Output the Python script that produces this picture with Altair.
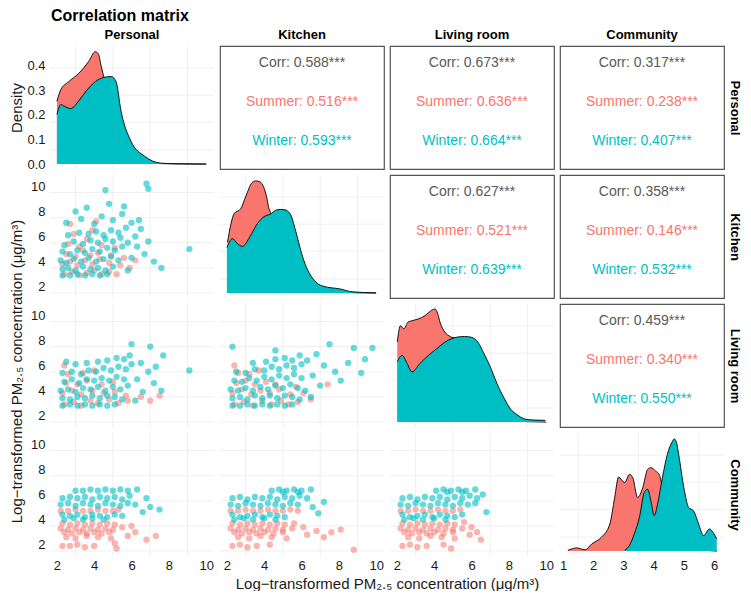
import altair as alt
import pandas as pd

FONT = "Liberation Sans"
VARS = ["Personal", "Kitchen", "Living room", "Community"]
SEASONS = ["Summer", "Winter"]
SEASON_COLORS = ["#F8766D", "#00BFC4"]
CORR_COLOR = "#595959"
GRID_COLOR = "#EBEBEB"

# upper-triangle correlation texts (row, col)
CORR_CELLS = [(0, 1), (0, 2), (0, 3), (1, 2), (1, 3), (2, 3)]
CORR_ALL = ["0.588", "0.673", "0.317", "0.627", "0.358", "0.459"]
CORR_SUMMER = ["0.516", "0.636", "0.238", "0.521", "0.146", "0.340"]
CORR_WINTER = ["0.593", "0.664", "0.407", "0.639", "0.532", "0.550"]

AXIS_TICKS = [2, 4, 6, 8, 10]
AXIS_TICKS_COMM = [1, 2, 3, 4, 5, 6]
DENSITY_TICKS = [0.0, 0.1, 0.2, 0.3, 0.4]
VGRID = [3, 5, 7, 9]
VGRID_COMM = [1.5, 3.5, 5.5]
HGRID_SCAT = [1.5, 3.5, 5.5, 7.5, 9.5]
HGRID_DENS = [0.057, 0.17, 0.28, 0.39]

X_DOM = [1.63, 10.42]
X_DOM_COMM = [0.9, 6.33]
Y_DOM = [1.1, 10.9]
D_DOM = [-0.02, 0.48]

XTITLE = "Log\u2212transformed PM\u2082.\u2085 concentration (\u03bcg/m\u00b3)"

# ---- diagonal densities ----
P_SUM_X = [2.0, 2.21, 2.63, 3.16, 3.69, 4.06, 4.22, 4.38, 4.54, 4.75, 5.0, 5.5, 6.3, 7.5, 10.0]
P_SUM_Y = [0.255, 0.303, 0.335, 0.368, 0.416, 0.457, 0.448, 0.396, 0.347, 0.295, 0.17, 0.05, 0.01, 0.002, 0.0]
P_WIN_X = [2.0, 2.21, 2.4, 2.74, 3.2, 3.6, 4.06, 4.5, 4.91, 5.17, 5.44, 5.97, 6.7, 7.56, 8.5, 10.0]
P_WIN_Y = [0.202, 0.242, 0.235, 0.226, 0.26, 0.30, 0.335, 0.352, 0.356, 0.335, 0.214, 0.093, 0.032, 0.004, 0.001, 0.0]

K_SUM_X = [2.03, 2.39, 2.74, 3.02, 3.34, 3.54, 3.77, 3.98, 4.14, 4.24, 4.33, 4.6, 5.0, 5.5, 6.5, 8.0, 10.0]
K_SUM_Y = [0.207, 0.323, 0.343, 0.395, 0.448, 0.456, 0.452, 0.429, 0.387, 0.348, 0.328, 0.2, 0.1, 0.04, 0.01, 0.003, 0.0]
K_WIN_X = [2.0, 2.3, 2.55, 2.83, 3.24, 3.62, 3.98, 4.33, 4.62, 4.86, 5.09, 5.4, 5.68, 6.01, 6.26, 6.54, 6.84, 7.16, 8.05, 8.75, 9.99]
K_WIN_Y = [0.185, 0.221, 0.202, 0.19, 0.23, 0.281, 0.31, 0.321, 0.337, 0.34, 0.339, 0.321, 0.254, 0.16, 0.105, 0.066, 0.04, 0.028, 0.017, 0.005, 0.001]

L_SUM_X = [2.02, 2.19, 2.37, 2.6, 2.81, 3.13, 3.51, 3.81, 4.04, 4.19, 4.31, 4.57, 4.87, 5.19, 5.5, 6.0, 6.5, 7.0, 8.0, 10.0]
L_SUM_Y = [0.325, 0.392, 0.379, 0.407, 0.412, 0.419, 0.433, 0.452, 0.46, 0.44, 0.406, 0.366, 0.347, 0.339, 0.25, 0.12, 0.05, 0.02, 0.005, 0.0]
L_WIN_X = [2.02, 2.28, 2.55, 2.81, 3.23, 3.69, 4.13, 4.57, 4.93, 5.28, 5.63, 5.98, 6.34, 6.67, 7.04, 7.36, 7.75, 8.1, 8.46, 8.79, 9.16, 9.95]
L_WIN_Y = [0.245, 0.271, 0.238, 0.204, 0.238, 0.271, 0.298, 0.325, 0.339, 0.346, 0.348, 0.345, 0.325, 0.278, 0.218, 0.157, 0.097, 0.052, 0.029, 0.014, 0.009, 0.007]

C_SUM_X = [1.16, 1.46, 1.73, 1.95, 2.27, 2.55, 2.71, 2.84, 3.04, 3.2, 3.31, 3.47, 3.64, 3.8, 3.91, 4.07, 4.18, 4.29, 4.4, 4.6, 4.9, 5.3, 6.1]
C_SUM_Y = [0.003, 0.013, 0.005, 0.029, 0.056, 0.11, 0.218, 0.301, 0.278, 0.312, 0.298, 0.218, 0.258, 0.332, 0.339, 0.325, 0.312, 0.258, 0.17, 0.09, 0.035, 0.01, 0.0]
C_WIN_X = [3.04, 3.2, 3.36, 3.53, 3.69, 3.8, 3.91, 4.02, 4.13, 4.29, 4.45, 4.62, 4.68, 4.75, 4.83, 5.0, 5.16, 5.32, 5.49, 5.65, 5.85, 5.96, 6.09]
C_WIN_Y = [0.003, 0.023, 0.07, 0.137, 0.238, 0.251, 0.204, 0.144, 0.191, 0.298, 0.392, 0.445, 0.456, 0.445, 0.392, 0.258, 0.177, 0.164, 0.11, 0.063, 0.09, 0.077, 0.05]

# ---- scatter clouds (representative points) ----
PK_SUM = ("2.4,3.0 2.8,3.2 3.2,2.9 3.6,3.1 4.0,3.3 4.4,3.0 4.8,3.2 5.2,3.0 2.3,3.8 2.7,4.0 3.1,3.7 3.5,4.1 "
          "3.9,3.8 4.3,4.2 4.8,3.9 5.4,3.7 5.9,3.5 2.5,4.6 3.0,4.4 3.4,4.9 3.8,4.5 4.2,4.7 4.9,4.5 5.6,4.3 "
          "2.6,5.4 3.2,5.2 3.6,5.8 4.4,5.3 5.1,5.1 2.9,6.2 3.9,6.5 2.7,7.0 4.1,7.2 6.2,4.1")
PK_WIN = ("2.3,2.9 2.7,2.9 3.1,3.0 3.5,2.9 3.9,3.0 4.3,2.9 4.7,3.0 2.3,3.4 2.6,3.5 3.0,3.3 3.4,3.6 3.8,3.4 "
          "4.2,3.5 4.6,3.3 5.0,3.6 2.2,4.1 2.5,3.9 2.9,4.2 3.3,4.0 3.7,4.3 4.1,4.0 4.5,4.2 4.9,4.4 5.3,4.1 "
          "2.3,4.8 2.7,4.6 3.1,4.9 3.5,4.7 3.9,5.0 4.3,4.8 4.7,5.1 5.1,4.9 5.5,5.2 2.4,5.3 2.9,5.6 3.4,5.4 "
          "3.8,5.7 4.2,5.5 4.6,5.8 5.0,5.6 5.4,5.9 5.8,5.5 2.6,6.1 3.2,6.3 3.7,6.2 4.1,6.4 4.5,6.1 4.9,6.5 "
          "5.3,6.3 5.7,6.7 6.2,6.0 2.5,7.1 3.3,7.4 4.0,7.0 4.4,7.6 5.0,7.3 5.5,7.8 6.0,7.1 6.5,6.6 3.6,8.3 "
          "4.8,8.6 5.6,8.4 4.6,9.7 6.8,10.2 6.9,9.8 3.0,8.0 6.3,5.2 6.7,4.6 7.2,4.0 7.6,3.5 6.9,5.6 6.0,4.3 "
          "9.1,5.0 5.8,3.3 6.4,7.3")
PL_SUM = ("2.4,2.9 2.9,3.1 3.3,2.8 3.8,3.2 4.2,3.0 4.8,3.3 5.3,3.0 5.8,3.2 2.3,3.8 2.8,4.0 3.3,3.7 3.9,4.0 "
          "4.5,3.8 5.1,3.9 5.7,3.6 6.5,3.5 7.0,3.2 7.5,3.6 2.5,4.6 3.1,4.5 3.6,4.8 4.4,4.5 5.0,4.7 2.6,5.3 "
          "3.4,5.4 4.0,5.6 2.4,6.0")
PL_WIN = ("2.3,2.8 2.7,2.9 3.1,2.8 3.5,2.9 3.9,2.8 4.3,2.9 4.7,2.8 5.1,2.9 2.3,3.4 2.7,3.3 3.1,3.5 3.5,3.4 "
          "3.9,3.6 4.3,3.4 4.7,3.6 5.1,3.5 5.5,3.3 2.2,4.0 2.6,4.1 3.0,3.9 3.4,4.2 3.8,4.1 4.2,4.3 4.6,4.0 "
          "5.0,4.3 5.4,4.1 5.8,4.4 2.4,4.7 2.8,4.9 3.2,4.6 3.6,4.9 4.0,4.8 4.4,5.0 4.8,4.8 5.2,5.1 5.6,4.9 "
          "2.3,5.4 2.8,5.5 3.3,5.3 3.7,5.6 4.1,5.5 4.5,5.8 4.9,5.6 5.3,5.9 5.7,5.7 6.0,6.1 3.0,6.1 3.6,6.2 "
          "4.2,6.3 4.7,6.4 5.2,6.6 5.6,6.5 5.9,6.8 6.0,7.7 7.0,7.5 7.7,6.8 6.5,6.2 6.9,5.5 6.3,4.9 7.2,4.6 "
          "7.6,4.0 6.6,3.9 9.1,5.6 2.5,6.3 6.2,3.2 7.3,5.9")
KL_SUM = ("2.4,2.9 2.9,3.1 3.4,2.8 3.9,3.2 4.4,2.9 4.9,3.2 5.3,2.9 5.8,3.1 2.3,3.8 2.8,4.1 3.3,3.7 3.8,4.0 "
          "4.3,3.8 4.8,4.1 5.4,3.7 6.1,3.8 5.7,4.3 7.4,4.5 2.5,4.6 3.0,4.8 3.5,4.5 4.1,4.7 4.6,4.5 2.6,5.4 "
          "3.2,5.3 3.7,5.6 2.4,6.0 6.5,3.3")
KL_WIN = ("2.3,2.8 2.7,2.8 3.1,2.9 3.5,2.8 3.9,2.9 4.3,2.8 4.7,2.9 5.1,2.8 5.5,2.9 2.3,3.4 2.7,3.5 3.1,3.3 "
          "3.5,3.6 3.9,3.4 4.3,3.6 4.7,3.4 5.1,3.6 5.5,3.5 5.9,3.3 2.2,4.1 2.6,4.0 3.0,4.2 3.4,4.0 3.8,4.3 "
          "4.2,4.1 4.6,4.4 5.0,4.2 5.4,4.5 5.8,4.2 6.2,4.0 2.4,4.8 2.8,4.7 3.2,5.0 3.6,4.8 4.0,5.1 4.4,4.9 "
          "4.8,5.2 5.2,5.0 5.6,5.3 6.0,5.0 2.5,5.5 3.0,5.4 3.5,5.7 4.0,5.6 4.4,5.9 4.8,5.7 5.2,6.0 5.6,5.8 "
          "6.0,6.1 3.4,6.2 4.1,6.3 4.6,6.5 5.1,6.6 5.5,6.4 5.9,6.8 6.3,6.4 2.3,7.5 7.5,7.7 8.8,7.4 9.8,7.4 "
          "9.4,6.5 9.2,5.4 8.1,4.8 6.8,6.9 7.2,6.0 6.6,5.2 7.0,4.4 8.5,6.2 6.5,3.5 7.8,5.5 4.6,7.2")
PC_SUM = ("2.2,4.7 2.6,4.7 3.0,4.8 3.4,4.7 3.8,4.7 4.2,4.8 4.6,4.7 5.0,4.7 5.3,4.8 2.3,3.7 2.7,3.6 3.1,3.7 "
          "3.5,3.6 3.9,3.7 4.3,3.6 4.7,3.7 5.1,3.6 2.2,3.3 2.6,3.2 3.0,3.3 3.4,3.2 3.8,3.3 4.2,3.2 4.6,3.3 "
          "5.0,3.2 5.5,3.4 2.4,3.0 2.8,2.9 3.2,3.0 3.6,2.9 4.0,3.0 4.4,2.9 4.8,3.0 2.5,2.6 3.0,2.5 3.6,2.7 "
          "4.2,2.6 4.9,2.5 5.8,2.7 6.2,3.0 6.8,2.4 7.3,2.7 6.0,3.5 2.3,1.9 2.7,1.9 3.1,2.0 3.5,1.8 4.0,1.9 "
          "5.1,2.1 5.2,1.7")
PC_WIN = ("3.0,6.3 3.4,6.3 3.8,6.4 4.2,6.3 4.6,6.4 5.0,6.3 5.4,6.4 5.8,6.3 6.3,6.4 2.3,5.7 2.7,5.8 3.1,5.7 "
          "3.5,5.8 3.9,5.6 4.3,5.8 4.7,5.7 5.1,5.8 5.5,5.6 5.9,5.9 2.2,5.2 2.6,5.3 3.0,5.1 3.4,5.3 3.8,5.2 "
          "4.2,5.1 4.6,5.3 5.0,5.2 5.4,5.1 5.8,5.3 6.2,5.2 2.3,4.4 2.7,4.3 3.1,4.4 3.5,4.2 3.9,4.4 4.3,4.3 "
          "4.7,4.2 5.1,4.4 5.5,4.3 2.4,4.0 2.9,4.1 3.4,4.0 3.9,4.1 4.5,4.0 6.6,4.6 7.0,5.0 7.5,4.8 6.8,5.7")
KC_SUM = ("2.2,4.7 2.6,4.7 3.0,4.8 3.4,4.7 3.8,4.7 4.2,4.8 4.6,4.7 5.0,4.7 5.4,4.8 5.8,4.7 2.3,3.7 2.7,3.6 "
          "3.1,3.7 3.5,3.6 3.9,3.7 4.3,3.6 4.7,3.7 5.1,3.6 5.6,3.7 2.2,3.3 2.6,3.2 3.0,3.3 3.4,3.2 3.8,3.3 "
          "4.2,3.2 4.6,3.3 5.0,3.2 5.5,3.3 6.1,3.4 2.4,3.0 2.8,2.9 3.2,3.0 3.6,2.9 4.0,3.0 4.5,2.9 5.0,3.0 "
          "2.6,2.6 3.2,2.5 3.8,2.7 4.4,2.6 5.2,2.5 6.3,2.8 6.8,3.1 7.2,2.6 7.6,3.0 8.1,3.2 2.3,1.9 2.7,2.0 "
          "3.1,1.8 3.6,1.9 4.3,2.0 8.8,1.6")
KC_WIN = ("4.4,6.3 4.8,6.4 5.2,6.3 5.6,6.4 6.0,6.3 6.5,6.4 5.0,6.2 5.8,6.2 2.3,5.7 2.7,5.8 3.1,5.6 3.5,5.8 "
          "3.9,5.7 4.3,5.8 4.7,5.6 5.1,5.8 5.5,5.7 5.9,5.9 6.3,5.7 2.2,5.2 2.6,5.1 3.0,5.3 3.4,5.2 3.8,5.1 "
          "4.2,5.3 4.6,5.2 5.0,5.1 5.4,5.3 5.8,5.2 2.3,4.4 2.7,4.2 3.1,4.3 3.5,4.4 3.9,4.2 4.3,4.4 4.7,4.3 "
          "5.1,4.2 2.4,4.0 2.9,4.1 3.4,4.0 4.0,4.1 4.6,4.0 6.6,5.0 6.9,4.5 7.2,5.4")
LC_SUM = ("2.2,4.7 2.6,4.7 3.0,4.8 3.4,4.7 3.8,4.7 4.2,4.8 4.6,4.7 5.0,4.7 5.4,4.8 2.3,3.7 2.7,3.6 3.1,3.7 "
          "3.5,3.6 3.9,3.7 4.3,3.6 4.7,3.7 5.1,3.6 5.6,3.8 2.2,3.3 2.6,3.2 3.0,3.3 3.4,3.2 3.8,3.3 4.2,3.2 "
          "4.6,3.3 5.0,3.2 5.5,3.3 6.0,3.4 2.4,3.0 2.8,2.9 3.2,3.0 3.6,2.9 4.0,3.0 4.5,2.9 5.0,3.0 2.6,2.6 "
          "3.2,2.5 3.8,2.7 4.4,2.6 5.1,2.5 5.9,2.8 6.3,3.0 6.5,2.4 2.3,1.9 2.7,2.0 3.1,1.8 3.6,1.9 4.5,2.0 "
          "4.9,1.7")
LC_WIN = ("4.1,6.3 4.5,6.4 4.9,6.3 5.3,6.4 5.7,6.3 6.2,6.4 4.7,6.2 5.5,6.2 2.3,5.7 2.7,5.8 3.1,5.6 3.5,5.8 "
          "3.9,5.7 4.3,5.8 4.7,5.6 5.1,5.8 5.5,5.7 5.9,5.9 6.3,5.7 2.2,5.2 2.6,5.1 3.0,5.3 3.4,5.2 3.8,5.1 "
          "4.2,5.3 4.6,5.2 5.0,5.1 5.4,5.3 5.8,5.2 6.2,5.3 2.3,4.4 2.7,4.2 3.1,4.3 3.5,4.4 3.9,4.2 4.3,4.4 "
          "4.7,4.3 5.1,4.2 5.5,4.4 2.4,4.0 2.9,4.1 3.4,4.0 4.0,4.1 4.6,4.0 6.6,6.0 6.8,4.6")

DENSITIES = {
    0: ((P_SUM_X, P_SUM_Y), (P_WIN_X, P_WIN_Y)),
    1: ((K_SUM_X, K_SUM_Y), (K_WIN_X, K_WIN_Y)),
    2: ((L_SUM_X, L_SUM_Y), (L_WIN_X, L_WIN_Y)),
    3: ((C_SUM_X, C_SUM_Y), (C_WIN_X, C_WIN_Y)),
}
SCATTERS = {
    (1, 0): (PK_SUM, PK_WIN),
    (2, 0): (PL_SUM, PL_WIN),
    (2, 1): (KL_SUM, KL_WIN),
    (3, 0): (PC_SUM, PC_WIN),
    (3, 1): (KC_SUM, KC_WIN),
    (3, 2): (LC_SUM, LC_WIN),
}

W, H = 164, 123


def parse_points(s):
    pairs = [p.split(",") for p in s.split()]
    return pd.DataFrame({"x": [float(a) for a, _ in pairs], "y": [float(b) for _, b in pairs]})


def x_def(r, c):
    dom = X_DOM_COMM if c == 3 else X_DOM
    if r == 3:
        kw = dict(orient="bottom", values=AXIS_TICKS_COMM if c == 3 else AXIS_TICKS, format="d",
                  labelPadding=3, tickSize=0, ticks=False, domain=False, grid=False,
                  labelFlush=False, labelOverlap=False, title=None)
        if c == 1:
            kw.update(title=XTITLE, titleX=167, titlePadding=4)
        ax = alt.Axis(**kw)
    else:
        ax = None
    return alt.X("x:Q", scale=alt.Scale(domain=dom, nice=False, zero=False), axis=ax)


def y_axis(r, c):
    if c == 0:
        kw = dict(orient="left", values=DENSITY_TICKS if r == 0 else AXIS_TICKS,
                  format=".1f" if r == 0 else "d", labelPadding=5, tickSize=0, ticks=False,
                  domain=False, grid=False, labelFlush=False, labelOverlap=False)
        if r == 0:
            kw.update(title="Density", titleX=-26, titleY=H / 2)
        elif r == 2:
            kw.update(title=XTITLE, titleX=-26, titleY=67)
        else:
            kw.update(title=None)
        return alt.Axis(**kw)
    if c == 3:
        return alt.Axis(orient="right", title=VARS[r], labels=False, ticks=False, domain=False,
                        grid=False, titleFontSize=13, titleFontWeight="bold", titleColor="black",
                        titlePadding=3, titleAngle=90)
    return None


def y_def(r, c):
    dom = D_DOM if r == c else Y_DOM
    return alt.Y("y:Q", scale=alt.Scale(domain=dom, nice=False, zero=False), axis=y_axis(r, c))


def grid_layers(r, c, xd, yd):
    hvals = HGRID_DENS if r == c else HGRID_SCAT
    vvals = VGRID_COMM if c == 3 else VGRID
    h = alt.Chart(pd.DataFrame({"y": hvals})).mark_rule(color=GRID_COLOR, strokeWidth=0.8).encode(y=yd)
    v = alt.Chart(pd.DataFrame({"x": vvals})).mark_rule(color=GRID_COLOR, strokeWidth=0.8).encode(x=xd)
    return [h, v]


def panel(r, c):
    if r < c:
        i = CORR_CELLS.index((r, c))
        df = pd.DataFrame({
            "x": [0.5, 0.5, 0.5],
            "k": [0, 1, 2],
            "label": [f"Corr: {CORR_ALL[i]}***", f"Summer: {CORR_SUMMER[i]}***", f"Winter: {CORR_WINTER[i]}***"],
            "grp": ["Corr", "Summer", "Winter"],
        })
        ch = alt.Chart(df).mark_text(fontSize=14, font=FONT, baseline="middle", align="center").encode(
            x=alt.X("x:Q", scale=alt.Scale(domain=[0, 1]), axis=None),
            y=alt.Y("k:Q", scale=alt.Scale(domain=[-0.43, 2.71], reverse=True, nice=False, zero=False),
                    axis=y_axis(r, c)),
            text="label:N",
            color=alt.Color("grp:N", scale=alt.Scale(domain=["Corr", "Summer", "Winter"],
                                                     range=[CORR_COLOR] + SEASON_COLORS), legend=None),
        ).properties(width=W, height=H, view=alt.ViewBackground(stroke="#555555", strokeWidth=1.2))
    else:
        xd, yd = x_def(r, c), y_def(r, c)
        layers = grid_layers(r, c, xd, yd)
        if r == c:
            for (xs, ys), col in zip(DENSITIES[r], SEASON_COLORS):
                d = pd.DataFrame({"x": xs, "y": ys})
                layers.append(alt.Chart(d).mark_area(color=col, opacity=1, interpolate="monotone").encode(x=xd, y=yd))
                layers.append(alt.Chart(d).mark_line(color="black", strokeWidth=0.9, interpolate="monotone").encode(x=xd, y=yd))
        else:
            for s, col, op in zip(SCATTERS[(r, c)], SEASON_COLORS, [0.55, 0.6]):
                d = parse_points(s)
                layers.append(alt.Chart(d).mark_circle(color=col, size=40, opacity=op).encode(x=xd, y=yd))
        ch = alt.layer(*layers).properties(width=W, height=H)
    if r == 0:
        ch = ch.properties(title=alt.TitleParams(VARS[c], fontSize=13, fontWeight="bold", font=FONT,
                                                 color="black", anchor="middle", offset=4))
    return ch


panels = [panel(r, c) for r in range(4) for c in range(4)]

chart = alt.concat(
    *panels, columns=4, spacing={"row": 6, "column": 6}, bounds="flush",
    title=alt.TitleParams("Correlation matrix", anchor="start", fontSize=16, fontWeight="bold",
                          font=FONT, color="black", offset=4, dx=42),
    padding={"left": 0, "top": 0, "right": 0, "bottom": 0},
).configure_view(stroke=None).configure_axis(
    labelFont=FONT, titleFont=FONT, labelFontSize=13, labelColor="#1a1a1a",
    titleFontSize=15, titleFontWeight="normal", titleColor="#1a1a1a",
)

chart.save("out.html", embed_options={"renderer": "svg", "actions": False})
